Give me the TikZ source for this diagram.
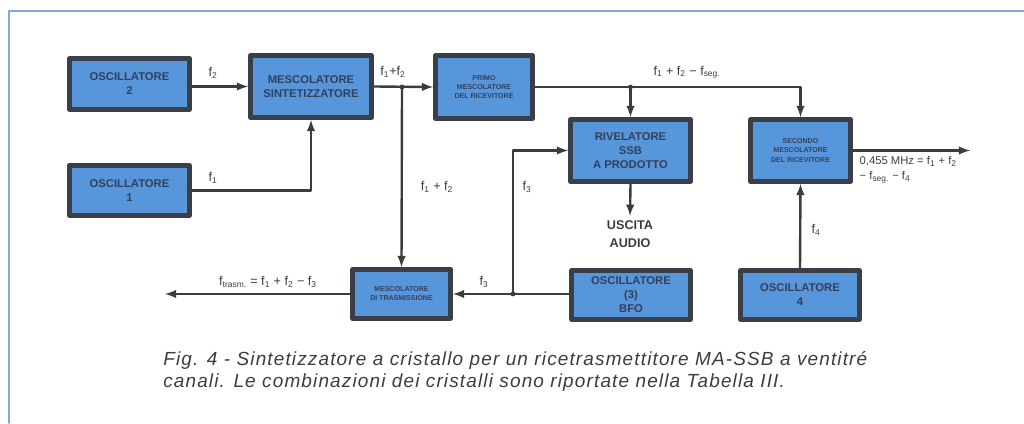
\documentclass[tikz,border=0pt]{standalone}
\usepackage{fontspec}
\setmainfont{Liberation Sans}
\usepackage{tikz}
\usetikzlibrary{arrows}
\definecolor{bordo}{HTML}{3A3F47}
\definecolor{blu}{HTML}{5896DC}
\definecolor{scritta}{HTML}{33405A}
\definecolor{linea}{HTML}{3C3C3C}
\definecolor{cornice}{HTML}{80A9DC}

\begin{document}
\begin{tikzpicture}
    [line cap=round,line join=round,x=0.025cm,y=-0.025cm,
     blocco/.style={draw=bordo,line width=3.8pt,fill=blu,text=scritta,align=center,inner sep=1pt,
                    font=\bfseries\fontsize{8}{10}\selectfont},
     piccolo/.style={blocco,font=\bfseries\fontsize{5}{6.5}\selectfont},
     filo/.style={draw=linea,line width=1.7pt},
     freccia/.style={filo,-latex},
     etich/.style={text=linea,inner sep=1pt,font=\fontsize{9}{11}\selectfont}]
\useasboundingbox (0,0) rectangle (1024,423);
%cornice
 \draw[cornice,line width=1.4pt] (9,423) -- (9,11) -- (1024,11);

%blocchi
 \node[blocco,minimum width=2.99cm,minimum height=1.265cm] (osc2) at (129.5,84) {OSCILLATORE\\2};
 \node[blocco,minimum width=2.99cm,minimum height=1.24cm] (osc1) at (129.5,190.5) {OSCILLATORE\\1};
 \node[blocco,minimum width=3.015cm,minimum height=1.54cm] (mescsint) at (311,86.5) {MESCOLATORE\\SINTETIZZATORE};
 \node[piccolo,minimum width=2.415cm,minimum height=1.565cm] (primo) at (484,87) {PRIMO\\MESCOLATORE\\DEL RICEVITORE};
 \node[blocco,minimum width=2.99cm,minimum height=1.54cm] (riv) at (630.5,150.5) {RIVELATORE\\SSB\\A PRODOTTO};
 \node[piccolo,minimum width=2.49cm,minimum height=1.54cm] (sec) at (800.5,150.5) {SECONDO\\MESCOLATORE\\DEL RICEVITORE};
 \node[piccolo,minimum width=2.44cm,minimum height=1.215cm] (trasm) at (401.5,294) {MESCOLATORE\\DI TRASMISSIONE};
 \node[blocco,minimum width=2.965cm,minimum height=1.215cm] (osc3) at (631,295) {OSCILLATORE\\(3)\\BFO};
 \node[blocco,minimum width=2.965cm,minimum height=1.215cm] (osc4) at (800,295) {OSCILLATORE\\4};
 \node[text=linea,align=center,font=\bfseries\fontsize{9}{12.5}\selectfont] (uscita) at (630,234) {USCITA\\AUDIO};

%punti liberi
 \coordinate (j1) at (402,87);
 \coordinate (j2) at (riv.north |- primo.east);
 \coordinate (j3) at (513,294);
 \coordinate (out1) at (165,294);
 \coordinate (out2) at (970,150.5);

%collegamenti
 \draw[freccia] (osc2.east |- mescsint.west) -- (mescsint.west);
 \draw[freccia] (osc1.east) -| (mescsint.south);
 \draw[freccia] (mescsint.east) -- (primo.west);
 \draw[freccia] (j1) -- (trasm.north);
 \draw[freccia] (primo.east) -| (sec.north);
 \draw[freccia] (j2) -- (riv.north);
 \draw[freccia] (riv.south) -- (uscita.north);
 \draw[freccia] (sec.east) -- (out2);
 \draw[freccia] (osc4.north) -- (sec.south);
 \draw[freccia] (osc3.west |- trasm.east) -- (trasm.east);
 \draw[freccia] (j3) |- (riv.west);
 \draw[freccia] (trasm.west) -- (out1);
 \fill[linea] (j1) circle (0.6mm);
 \fill[linea] (j2) circle (0.6mm);
 \fill[linea] (j3) circle (0.6mm);

%etichette
 \node[etich] (lf2) at (213,73) {f\textsubscript{2}};
 \node[etich] (lf1) at (213,178) {f\textsubscript{1}};
 \node[etich] (lf12) at (393,72) {f\textsubscript{1}+f\textsubscript{2}};
 \node[etich] (lf12b) at (437,187) {f\textsubscript{1} + f\textsubscript{2}};
 \node[etich] (lseg) at (687,72) {f\textsubscript{1} + f\textsubscript{2} − f\textsubscript{seg.}};
 \node[etich] (lf3a) at (527,187) {f\textsubscript{3}};
 \node[etich] (lf3b) at (484,282) {f\textsubscript{3}};
 \node[etich] (lf4) at (816,230) {f\textsubscript{4}};
 \node[etich] (ltrasm) at (268,282) {f\textsubscript{trasm.} = f\textsubscript{1} + f\textsubscript{2} − f\textsubscript{3}};
 \node[etich,anchor=north west,align=left,font=\fontsize{8}{10.5}\selectfont] (lmhz) at (858,155)
   {0,455 MHz = f\textsubscript{1} + f\textsubscript{2}\\− f\textsubscript{seg.} − f\textsubscript{4}};

%didascalia
 \node[anchor=north west,align=left,inner sep=0pt,text=linea,
       font=\itshape\fontsize{13.5}{16}\selectfont\addfontfeature{LetterSpace=6}] (didascalia) at (163,351)
   {Fig. 4 - Sintetizzatore a cristallo per un ricetrasmettitore MA-SSB a ventitré\\
    canali. Le combinazioni dei cristalli sono riportate nella Tabella III.};
\end{tikzpicture}
\end{document}
